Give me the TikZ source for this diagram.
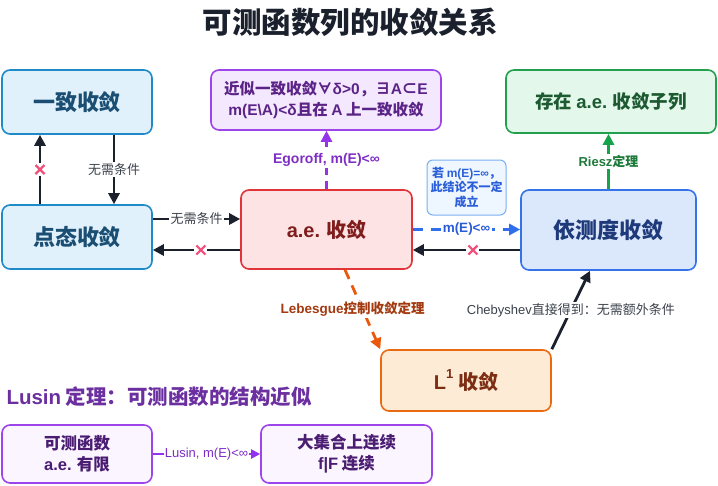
\documentclass[tikz,border=0pt]{standalone}
\usepackage{fontspec}
\setmainfont{Noto Sans CJK SC}
\newfontfamily\lat{Liberation Sans}
\usetikzlibrary{arrows.meta,calc}
\definecolor{bluefill}{HTML}{E1F1FC}\definecolor{blueline}{HTML}{1E8AC8}\definecolor{bluetext}{HTML}{1A4E72}
\definecolor{redfill}{HTML}{FDE3E3}\definecolor{redline}{HTML}{E0343A}\definecolor{redtext}{HTML}{7F1D1D}
\definecolor{purfill}{HTML}{F3E8FF}\definecolor{purline}{HTML}{9D45EA}\definecolor{purtext}{HTML}{5B2386}
\definecolor{grnfill}{HTML}{E3F8EB}\definecolor{grnline}{HTML}{22A04E}\definecolor{grntext}{HTML}{1D5A32}
\definecolor{msfill}{HTML}{DBE8FC}\definecolor{msline}{HTML}{3574E8}\definecolor{mstext}{HTML}{1E3A7A}
\definecolor{orfill}{HTML}{FEEBD6}\definecolor{orline}{HTML}{EA6A12}\definecolor{ortext}{HTML}{7C2D12}
\definecolor{notefill}{HTML}{EEF6FF}\definecolor{noteline}{HTML}{7BAEF2}\definecolor{notetext}{HTML}{2B5FD9}
\definecolor{lufill}{HTML}{FAF5FF}\definecolor{lutext}{HTML}{4A1D72}
\definecolor{blk}{HTML}{1A202C}\definecolor{xred}{HTML}{F0507A}
\definecolor{egcol}{HTML}{9333EA}\definecolor{eglab}{HTML}{7E2EC5}
\definecolor{bluearr}{HTML}{2F6FEB}\definecolor{bluelab}{HTML}{2A5BD7}
\definecolor{grnarr}{HTML}{16A34A}\definecolor{grnlab}{HTML}{1E7A3A}
\definecolor{orarr}{HTML}{EA580C}\definecolor{orlab}{HTML}{A33A10}
\definecolor{titlecol}{HTML}{1A202C}\definecolor{lusinhead}{HTML}{6B2FA0}
\newcommand{\la}[1]{{\lat #1}}
\begin{document}
\begin{tikzpicture}[x=1pt,y=-1pt,
  box/.style={draw, rounded corners=8pt, line width=1.6pt, inner sep=0pt, align=center, font=\bfseries},
  conn/.style={line width=2.8pt, -{Triangle[length=11pt,width=11pt]}},
  lab/.style={fill=white, inner sep=1.5pt, font=\fontsize{13}{15}\selectfont},
  crossbg/.style={fill=white, inner sep=0pt, minimum size=13pt}]
\useasboundingbox (0,0) rectangle (718,485);

\node[font=\fontsize{29.5}{32}\selectfont\bfseries, text=titlecol] (title) at (350,22) {可测函数列的收敛关系};

\node[box, fill=bluefill, draw=blueline, text=bluetext, minimum width=150pt, minimum height=64pt, font=\fontsize{22}{24}\selectfont\bfseries] (yizhi) at (77,102) {一致收敛};
\node[box, fill=bluefill, draw=blueline, text=bluetext, minimum width=150pt, minimum height=64pt, font=\fontsize{22}{24}\selectfont\bfseries] (diantai) at (77,237) {点态收敛};
\node[box, fill=redfill, draw=redline, text=redtext, minimum width=171pt, minimum height=79pt, font=\fontsize{20}{24}\selectfont\bfseries] (ae) at (326.5,229.5) {\la{a.e.} 收敛};
\node[box, fill=purfill, draw=purline, text=purtext, minimum width=230pt, minimum height=60pt, font=\fontsize{15.5}{21}\selectfont\bfseries] (approx) at (326,100) {近似一致收敛∀\la{δ>0}，∃\la{A}⊂\la{E}\\\la{m(E\textbackslash A)<δ}且在 \la{A} 上一致收敛};
\node[box, fill=grnfill, draw=grnline, text=grntext, minimum width=210pt, minimum height=63pt, font=\fontsize{18.5}{22}\selectfont\bfseries] (subseq) at (611,101.5) {存在 \la{a.e.} 收敛子列};
\node[box, fill=msfill, draw=msline, text=mstext, minimum width=175pt, minimum height=80pt, font=\fontsize{22}{24}\selectfont\bfseries] (measure) at (608.5,230) {依测度收敛};
\node[box, fill=orfill, draw=orline, text=ortext, minimum width=170pt, minimum height=61pt, font=\fontsize{20}{24}\selectfont\bfseries] (lone) at (466,380.5) {\la{L\raisebox{0.55em}{\fontsize{13}{14}\selectfont 1}} 收敛};
\node[box, fill=notefill, draw=noteline, text=notetext, line width=1pt, rounded corners=6pt, minimum width=79pt, minimum height=55pt, font=\fontsize{12}{14.5}\selectfont\bfseries] (note) at (466.5,187.5) {若 \la{m(E)=∞}，\\此结论不一定\\成立};

\node[anchor=west, text=lusinhead, font=\fontsize{20.5}{22}\selectfont\bfseries] (lusinhead) at (3,397) {\la{Lusin} 定理：可测函数的结构近似};
\node[box, fill=lufill, draw=purline, text=lutext, minimum width=150pt, minimum height=58pt, font=\fontsize{16.5}{21}\selectfont\bfseries] (fone) at (77,454) {可测函数\\\la{a.e.} 有限};
\node[box, fill=lufill, draw=purline, text=lutext, minimum width=171pt, minimum height=58pt, font=\fontsize{16.5}{21}\selectfont\bfseries] (ftwo) at (346.5,454) {大集合上连续\\\la{f|F} 连续};

% pointwise -> uniform (false)
\draw[conn, blk] ([xshift=-37pt]diantai.north) -- ([xshift=-37pt]yizhi.south);
\node[crossbg] (xa) at ($([xshift=-37pt]diantai.north)!0.5!([xshift=-37pt]yizhi.south)$) {};
% uniform -> pointwise
\draw[conn, blk] ([xshift=37pt]yizhi.south) -- ([xshift=37pt]diantai.north) node[lab, midway, text=blk!85] {无需条件};
% pointwise -> ae
\coordinate (pa) at ([yshift=18pt]diantai.east);
\draw[conn, blk] (pa) -- (pa -| ae.west) node[lab, midway, text=blk!85] {无需条件};
% ae -> pointwise (false)
\coordinate (pb) at ([yshift=-13pt]diantai.east);
\draw[conn, blk] (pb -| ae.west) -- (pb);
\node[crossbg] (xb) at ($(pb)!0.55!(pb -| ae.west)$) {};
% Egoroff
\draw[conn, egcol, line width=2.6pt, dash pattern=on 8pt off 6pt] (ae.north) -- (ae.north |- approx.south) node[lab, midway, text=eglab, font=\fontsize{14}{15}\selectfont\bfseries] {\la{Egoroff, m(E)<∞}};
% ae -> measure
\draw[conn, bluearr, dash pattern=on 10pt off 8pt] (ae.east) -- (ae.east -| measure.west) node[lab, midway, text=bluelab, font=\fontsize{13.5}{15}\selectfont\bfseries] {\la{m(E)<∞}};
% measure -> ae (false)
\coordinate (pc) at ([yshift=-20pt]measure.west);
\draw[conn, blk] (pc) -- (pc -| ae.east);
\node[crossbg] (xc) at ($(pc -| ae.east)!0.56!(pc)$) {};
% Riesz
\draw[conn, grnarr] (measure.north) -- (measure.north |- subseq.south) node[lab, midway, text=grnlab, font=\fontsize{13}{15}\selectfont\bfseries] {\la{Riesz}定理};
% Lebesgue
\draw[conn, orarr, dash pattern=on 10pt off 7pt] ([xshift=18.5pt]ae.south) -- (lone.north west) node[lab, pos=0.5, xshift=-10pt, text=orlab, font=\fontsize{13.5}{15}\selectfont\bfseries] {\la{Lebesgue}控制收敛定理};
% Chebyshev
\draw[conn, blk] (lone.north east) -- ([xshift=-18.5pt]measure.south) node[lab, pos=0.5, text=blk!85] {\la{Chebyshev}直接得到：无需额外条件};
% Lusin
\draw[line width=2pt, egcol, -{Triangle[length=9pt,width=9pt]}] (fone.east) -- (ftwo.west) node[lab, midway, text=eglab, font=\fontsize{13}{15}\selectfont, inner sep=0.5pt] {\la{Lusin, m(E)<∞}};

% crosses
\foreach \n in {xa,xb,xc}{
  \draw[xred, line width=2.2pt] ($(\n)+(-4.5,-4.5)$) -- ($(\n)+(4.5,4.5)$) ($(\n)+(-4.5,4.5)$) -- ($(\n)+(4.5,-4.5)$);
}
\end{tikzpicture}
\end{document}
